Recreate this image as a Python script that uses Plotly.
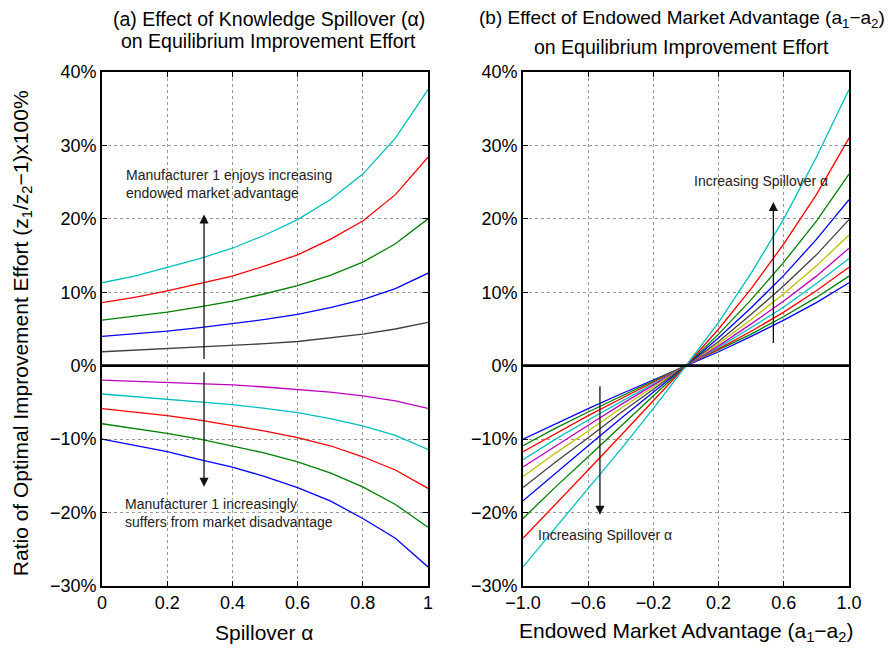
import plotly.graph_objects as go

# ---------------- data (values in %) ----------------
alpha = [0.0, 0.1, 0.2, 0.3, 0.4, 0.5, 0.6, 0.7, 0.8, 0.9, 1.0]
advantage = [-1.0, -0.8, -0.6, -0.4, -0.2, 0.0, 0.2, 0.4, 0.6, 0.8, 1.0]

# ratio (%) for each endowed advantage (a1-a2), as a function of spillover alpha
ratio_m10 = [-10.0, -10.9, -11.7, -12.8, -13.8, -15.1, -16.6, -18.4, -20.8, -23.5, -27.4]
ratio_m08 = [-7.9, -8.5, -9.2, -10.0, -10.9, -11.9, -13.1, -14.6, -16.5, -18.9, -22.0]
ratio_m06 = [-5.85, -6.3, -6.8, -7.4, -8.1, -8.9, -9.8, -10.9, -12.4, -14.2, -16.7]
ratio_m04 = [-3.85, -4.2, -4.5, -4.9, -5.3, -5.8, -6.4, -7.2, -8.2, -9.5, -11.4]
ratio_m02 = [-1.95, -2.1, -2.25, -2.4, -2.6, -2.9, -3.2, -3.6, -4.1, -4.8, -5.8]
ratio_p00 = [0.0, 0.0, 0.0, 0.0, 0.0, 0.0, 0.0, 0.0, 0.0, 0.0, 0.0]
ratio_p02 = [1.9, 2.1, 2.3, 2.5, 2.7, 3.0, 3.3, 3.8, 4.3, 5.0, 5.9]
ratio_p04 = [4.0, 4.3, 4.7, 5.2, 5.7, 6.3, 7.0, 7.9, 9.0, 10.5, 12.6]
ratio_p06 = [6.2, 6.7, 7.3, 8.0, 8.8, 9.8, 10.9, 12.3, 14.1, 16.6, 20.0]
ratio_p08 = [8.6, 9.3, 10.2, 11.2, 12.2, 13.6, 15.1, 17.2, 19.7, 23.3, 28.4]
ratio_p10 = [11.3, 12.2, 13.4, 14.6, 16.0, 17.8, 19.9, 22.6, 26.1, 31.0, 37.6]

ratio_by_adv = [ratio_m10, ratio_m08, ratio_m06, ratio_m04, ratio_m02, ratio_p00,
                ratio_p02, ratio_p04, ratio_p06, ratio_p08, ratio_p10]

y_ticks = [-30, -20, -10, 0, 10, 20, 30, 40]
y_ticktext = ["\u221230%", "\u221220%", "\u221210%", "0%", "10%", "20%", "30%", "40%"]
xa_ticks = [0, 0.2, 0.4, 0.6, 0.8, 1]
xa_ticktext = ["0", "0.2", "0.4", "0.6", "0.8", "1"]
xb_ticks = [-1.0, -0.6, -0.2, 0.2, 0.6, 1.0]
xb_ticktext = ["\u22121.0", "\u22120.6", "\u22120.2", "0.2", "0.6", "1.0"]

# MATLAB classic colour order
colors = ["#0000FF", "#008000", "#FF0000", "#00BFBF", "#BF00BF", "#BFBF00", "#404040",
          "#0000FF", "#008000", "#FF0000", "#00BFBF"]

FONT = "Liberation Sans, Arial, Helvetica, sans-serif"

fig = go.Figure()

# ---- panel (a): one line per endowed advantage ----
for i, ys in enumerate(ratio_by_adv):
    fig.add_trace(go.Scatter(x=alpha, y=ys, mode="lines", xaxis="x", yaxis="y",
                             line=dict(color=colors[i], width=1.3), showlegend=False,
                             hoverinfo="skip"))
fig.add_trace(go.Scatter(x=[alpha[0], alpha[-1]], y=[0, 0], mode="lines", xaxis="x", yaxis="y",
                         line=dict(color="black", width=2.8), showlegend=False, hoverinfo="skip"))

# ---- panel (b): one line per spillover alpha ----
for j in range(len(alpha)):
    ys = [ratio_by_adv[k][j] for k in range(len(advantage))]
    fig.add_trace(go.Scatter(x=advantage, y=ys, mode="lines", xaxis="x2", yaxis="y2",
                             line=dict(color=colors[j], width=1.3), showlegend=False,
                             hoverinfo="skip"))
fig.add_trace(go.Scatter(x=[advantage[0], advantage[-1]], y=[0, 0], mode="lines", xaxis="x2", yaxis="y2",
                         line=dict(color="black", width=2.8), showlegend=False, hoverinfo="skip"))

axis_common = dict(showline=True, linecolor="black", linewidth=1.6, mirror="ticks",
                   ticks="inside", ticklen=5, tickcolor="black", tickwidth=1,
                   showgrid=True, gridcolor="#9a9a9a", griddash="dot", gridwidth=1,
                   zeroline=False, tickfont=dict(family=FONT, size=18, color="black"))

fig.update_layout(
    width=896, height=651,
    margin=dict(l=94, r=55, t=64, b=73),
    paper_bgcolor="white", plot_bgcolor="white",
    font=dict(family=FONT, color="black"),
    showlegend=False,
    xaxis=dict(domain=[0, 0.4364], range=[0, 1], tickvals=xa_ticks, ticktext=xa_ticktext,
               anchor="y", **axis_common),
    yaxis=dict(range=[-30, 40], tickvals=y_ticks, ticktext=y_ticktext, anchor="x",
               **axis_common),
    xaxis2=dict(domain=[0.5636, 1], range=[-1, 1], tickvals=xb_ticks, ticktext=xb_ticktext,
                anchor="y2", **axis_common),
    yaxis2=dict(range=[-30, 40], tickvals=y_ticks, ticktext=y_ticktext, anchor="x2",
                **axis_common),
)

title_font = dict(family=FONT, size=19.5, color="black")
ann = []
# titles
ann.append(dict(text="(a) Effect of Knowledge Spillover (\u03b1)", x=0.2235, y=1.104,
                xanchor="center", font=title_font))
ann.append(dict(text="on Equilibrium Improvement Effort", x=0.2235, y=1.0595,
                xanchor="center", font=title_font))
ann.append(dict(text="(b) Effect of Endowed Market Advantage (a<sub>1</sub>\u2212a<sub>2</sub>)",
                x=1.051, y=1.104, xanchor="right",
                font=dict(family=FONT, size=19, color="black")))
ann.append(dict(text="on Equilibrium Improvement Effort", x=0.7755, y=1.0486,
                xanchor="center", font=title_font))
for a in ann:
    a.update(xref="paper", yref="paper", showarrow=False, yanchor="middle")

# axis titles
ann.append(dict(text="Spillover \u03b1", x=0.218, y=-0.0895, xref="paper", yref="paper",
                showarrow=False, xanchor="center", yanchor="middle",
                font=dict(family=FONT, size=21, color="black")))
ann.append(dict(text="Endowed Market Advantage (a<sub>1</sub>\u2212a<sub>2</sub>)", x=0.782, y=-0.0895,
                xref="paper", yref="paper", showarrow=False, xanchor="center", yanchor="middle",
                font=dict(family=FONT, size=21, color="black")))
ann.append(dict(text="Ratio of Optimal Improvement Effort (z<sub>1</sub>/z<sub>2</sub>\u22121)x100%",
                x=-0.107, y=0.492, xref="paper", yref="paper", textangle=-90,
                showarrow=False, xanchor="center", yanchor="middle",
                font=dict(family=FONT, size=21, color="black")))

# arrows
arrow_style = dict(showarrow=True, arrowhead=2, arrowsize=1.4, arrowwidth=1.3,
                   arrowcolor="#111111", text="")
ann.append(dict(x=0.313, y=20.6, ax=0.313, ay=0.7, xref="x", yref="y", axref="x", ayref="y", **arrow_style))
ann.append(dict(x=0.313, y=-16.5, ax=0.313, ay=-0.7, xref="x", yref="y", axref="x", ayref="y", **arrow_style))
ann.append(dict(x=0.536, y=22.3, ax=0.536, ay=2.9, xref="x2", yref="y2", axref="x2", ayref="y2", **arrow_style))
ann.append(dict(x=-0.528, y=-20.3, ax=-0.528, ay=-2.6, xref="x2", yref="y2", axref="x2", ayref="y2", **arrow_style))

# text labels in plots
txt_font = dict(family=FONT, size=14, color="#222222")
ann.append(dict(text="Manufacturer 1 enjoys increasing<br>endowed market advantage", x=0.066, y=24.8,
                xref="x", yref="y", showarrow=False, xanchor="left", yanchor="middle", align="left",
                font=txt_font))
ann.append(dict(text="Manufacturer 1 increasingly<br>suffers from market disadvantage", x=0.064, y=-20.05,
                xref="x", yref="y", showarrow=False, xanchor="left", yanchor="middle", align="left",
                font=txt_font))
ann.append(dict(text="Increasing Spillover \u03b1", x=0.46, y=25.2, xref="x2", yref="y2",
                showarrow=False, xanchor="center", yanchor="middle", font=txt_font))
ann.append(dict(text="Increasing Spillover \u03b1", x=-0.5, y=-23.0, xref="x2", yref="y2",
                showarrow=False, xanchor="center", yanchor="middle", font=txt_font))

fig.update_layout(annotations=ann)

fig.write_html("out.html")
